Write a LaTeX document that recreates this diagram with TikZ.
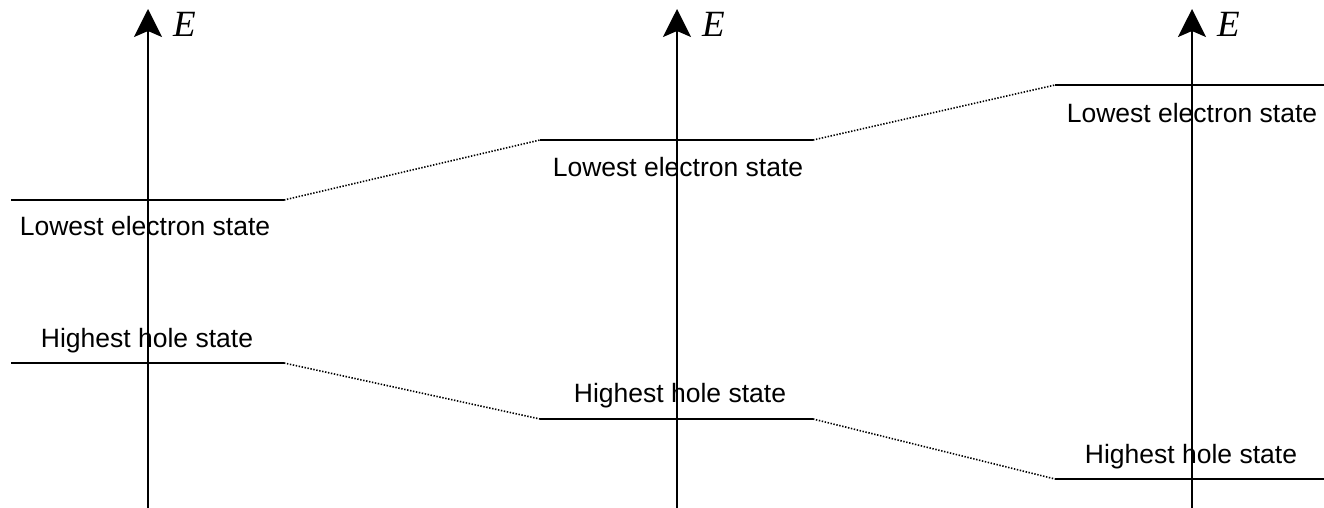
\documentclass[tikz,border=0pt]{standalone}
\usepackage{fontspec}
\setmainfont{Liberation Sans}
\newfontfamily\efont{Liberation Serif}
\usetikzlibrary{arrows.meta}
\begin{document}
\begin{tikzpicture}[x=1pt,y=-1pt,
  level/.style={line width=1.8pt},
  link/.style={line width=1.6pt,dash pattern=on 1.4pt off 1.6pt},
  axis/.style={line width=1.8pt,-{Stealth[length=28pt,width=28pt,inset=6pt]}},
  lab/.style={font=\fontsize{26.5}{27}\selectfont,inner sep=0pt,anchor=base},
  elab/.style={font=\fontsize{37}{37}\efont\itshape,inner sep=0pt,anchor=base west}]
\useasboundingbox (0,0) rectangle (1324,508);
% axes
\coordinate (a1b) at (148,508); \coordinate (a1t) at (148,9);
\coordinate (a2b) at (677,508); \coordinate (a2t) at (677,9);
\coordinate (a3b) at (1192,508); \coordinate (a3t) at (1192,9);
% electron levels
\coordinate (e1l) at (11,200);  \coordinate (e1r) at (284,200);
\coordinate (e2l) at (540,140); \coordinate (e2r) at (813,140);
\coordinate (e3l) at (1055,85); \coordinate (e3r) at (1324,85);
% hole levels
\coordinate (h1l) at (11,363);  \coordinate (h1r) at (284,363);
\coordinate (h2l) at (540,419); \coordinate (h2r) at (813,419);
\coordinate (h3l) at (1055,479); \coordinate (h3r) at (1324,479);
\draw[level] (e1l) -- (e1r);
\draw[level] (e2l) -- (e2r);
\draw[level] (e3l) -- (e3r);
\draw[level] (h1l) -- (h1r);
\draw[level] (h2l) -- (h2r);
\draw[level] (h3l) -- (h3r);
\draw[link] (e1r) -- (e2l);
\draw[link] (e2r) -- (e3l);
\draw[link] (h1r) -- (h2l);
\draw[link] (h2r) -- (h3l);
% labels
\node[lab] (le1) at (145,235) {Lowest electron state};
\node[lab] (le2) at (678,176) {Lowest electron state};
\node[lab] (le3) at (1192,122) {Lowest electron state};
\node[lab] (lh1) at (147,347) {Highest hole state};
\node[lab] (lh2) at (680,402) {Highest hole state};
\node[lab] (lh3) at (1191,463) {Highest hole state};
% axes on top
\draw[axis] (a1b) -- (a1t);
\draw[axis] (a2b) -- (a2t);
\draw[axis] (a3b) -- (a3t);
\node[elab] (E1) at (173,37) {E};
\node[elab] (E2) at (702,37) {E};
\node[elab] (E3) at (1217,37) {E};
\end{tikzpicture}
\end{document}
